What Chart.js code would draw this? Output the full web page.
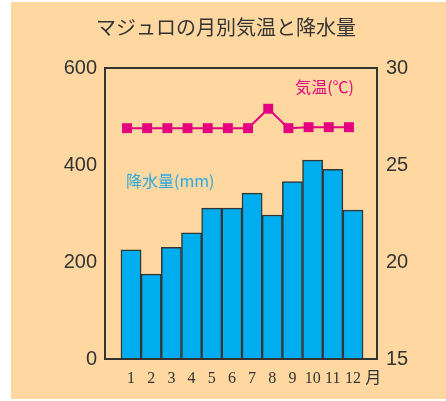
<!DOCTYPE html>
<html>
<head>
<meta charset="utf-8">
<script src="https://cdn.jsdelivr.net/npm/chart.js@4/dist/chart.umd.min.js"></script>
<style>
  body { margin: 0; background: #fff; }
  #bg { position: absolute; left: 11px; top: 2px; width: 435px; height: 397px; background: #fed8a0; }
  #chart { position: absolute; left: 0; top: 0; }
</style>
</head>
<body>
<div id="bg"></div>
<canvas id="chart" width="446" height="401"></canvas>
<script>
const months = [1, 2, 3, 4, 5, 6, 7, 8, 9, 10, 11, 12];
const rainfall = [225, 175, 230, 260, 311, 311, 342, 297, 366, 410, 391, 307];
const temperature = [26.9, 26.9, 26.9, 26.9, 26.9, 26.9, 26.9, 27.9, 26.9, 26.95, 26.95, 26.95];
const xTickLabels = ["1", "2", "3", "4", "5", "6", "7", "8", "9", "10", "11", "12", "月"];
const rainTicks = [0, 200, 400, 600];
const tempTicks = [15, 20, 25, 30];

const ink = "#333333";
const magenta = "#e4007f";

// frame around the plot + the two series captions
const framePlugin = {
  id: "frame",
  afterDatasetsDraw(chart) {
    const { ctx, chartArea: a, scales } = chart;
    ctx.save();
    ctx.strokeStyle = ink;
    ctx.lineWidth = 2;
    ctx.strokeRect(a.left, a.top, a.right - a.left, a.bottom - a.top);

    ctx.font = "16px 'Noto Sans CJK JP'";
    ctx.textBaseline = "middle";
    ctx.fillStyle = magenta;
    ctx.textAlign = "right";
    ctx.fillText("気温(℃)", scales.x.getPixelForValue(12.05), scales.y2.getPixelForValue(29.05));
    ctx.fillStyle = "#29a9e1";
    ctx.textAlign = "left";
    ctx.fillText("降水量(mm)", scales.x.getPixelForValue(0.75), scales.y.getPixelForValue(368));
    ctx.restore();
  },
};

new Chart(document.getElementById("chart"), {
  type: "bar",
  data: {
    datasets: [
      {
        type: "line",
        label: "気温",
        data: months.map((m, i) => ({ x: m - 0.2, y: temperature[i] })),
        yAxisID: "y2",
        borderColor: magenta,
        borderWidth: 2,
        pointStyle: "rect",
        pointRadius: 7,
        pointBorderWidth: 0,
        pointBackgroundColor: magenta,
        tension: 0,
        order: 0,
      },
      {
        label: "降水量",
        data: months.map((m, i) => ({ x: m, y: rainfall[i] })),
        yAxisID: "y",
        backgroundColor: "#00aeef",
        borderColor: "#353535",
        borderWidth: 1.5,
        barPercentage: 1,
        categoryPercentage: 1,
        order: 1,
      },
    ],
  },
  options: {
    responsive: false,
    animation: false,
    layout: { padding: { left: 6 } },
    plugins: {
      legend: { display: false },
      tooltip: { enabled: false },
      title: {
        display: true,
        text: "マジュロの月別気温と降水量",
        color: ink,
        font: { family: "'Noto Sans CJK JP'", size: 20, weight: "normal", lineHeight: 1.2 },
        padding: { top: 15, bottom: 29 },
      },
    },
    scales: {
      x: {
        type: "linear",
        offset: false,
        min: -0.29,
        max: 13.19,
        grid: { display: false, drawTicks: false },
        border: { display: false },
        afterBuildTicks(scale) {
          scale.ticks = xTickLabels.map((_, i) => ({ value: i + 1 }));
        },
        ticks: {
          autoSkip: false,
          maxRotation: 0,
          padding: 10,
          color: ink,
          font: { family: "'Liberation Serif', 'Noto Sans CJK JP'", size: 16 },
          callback: (v) => xTickLabels[v - 1],
        },
        afterFit(scale) {
          scale.height = 42;
        },
      },
      y: {
        position: "left",
        min: 0,
        max: 600,
        grid: { display: false, drawTicks: false },
        border: { display: false },
        afterBuildTicks(scale) {
          scale.ticks = rainTicks.map((v) => ({ value: v }));
        },
        ticks: {
          padding: 8,
          color: ink,
          font: { family: "'Liberation Sans'", size: 20 },
        },
        afterFit(scale) {
          scale.width = 99;
        },
      },
      y2: {
        position: "right",
        min: 15,
        max: 30,
        grid: { display: false, drawTicks: false },
        border: { display: false },
        afterBuildTicks(scale) {
          scale.ticks = tempTicks.map((v) => ({ value: v }));
        },
        ticks: {
          padding: 9,
          color: ink,
          font: { family: "'Liberation Sans'", size: 20 },
        },
        afterFit(scale) {
          scale.width = 69;
        },
      },
    },
  },
  plugins: [framePlugin],
});
</script>
</body>
</html>
